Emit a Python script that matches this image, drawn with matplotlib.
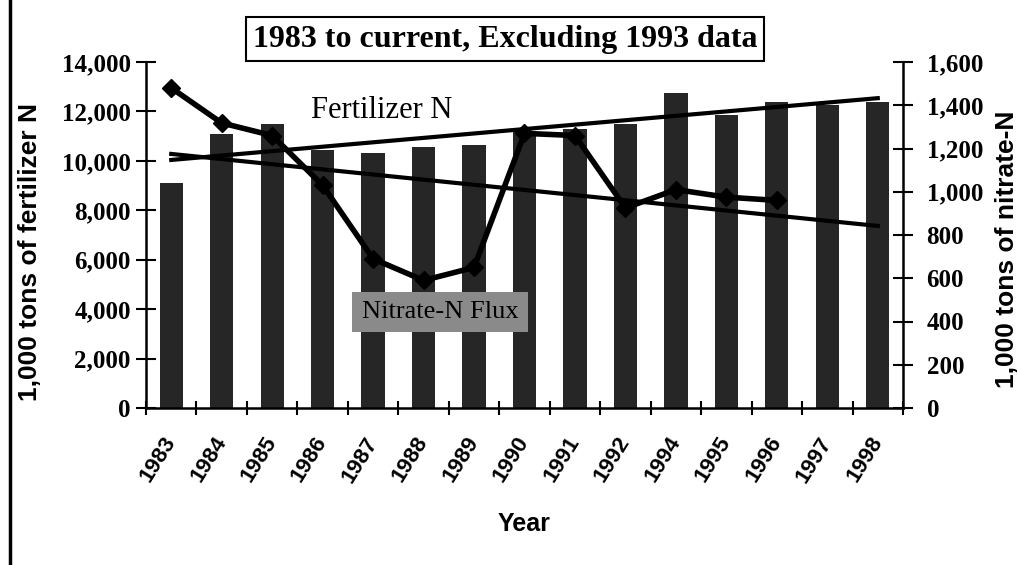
import numpy as np
import matplotlib
matplotlib.use("Agg")
import matplotlib.pyplot as plt
from matplotlib.lines import Line2D

# Data (1993 excluded)
years = ["1983", "1984", "1985", "1986", "1987", "1988", "1989", "1990",
         "1991", "1992", "1994", "1995", "1996", "1997", "1998"]
fertilizer_n = [9100, 11100, 11500, 10450, 10300, 10550, 10650, 11200,
                11300, 11500, 12750, 11850, 12400, 12250, 12400]
# nitrate-N flux only runs through 1996
nitrate_n = [1480, 1318, 1260, 1030, 690, 590, 650, 1270,
             1260, 925, 1010, 975, 960]

left_ticks = [0, 2000, 4000, 6000, 8000, 10000, 12000, 14000]
right_ticks = [0, 200, 400, 600, 800, 1000, 1200, 1400, 1600]

serif = "Liberation Serif"
sans = "Liberation Sans"
W, H = 1018, 565

fig = plt.figure(figsize=(W / 100, H / 100), dpi=100)
ax = fig.add_axes([146 / W, 1 - 408 / H, (903 - 146) / W, 346 / H])

x = np.arange(len(years))
x_nit = np.arange(len(nitrate_n))

ax.bar(x, fertilizer_n, width=0.46, color="#262626", zorder=2)

# linear trend lines, as in the spreadsheet original
fit_f = np.polyfit(x, fertilizer_n, 1)
ax.plot(x, np.polyval(fit_f, x), color="black", lw=3, zorder=3)

ax.set_xlim(-0.5, len(years) - 0.5)
ax.set_ylim(0, 14000)
ax.set_yticks(left_ticks)
ax.set_yticklabels([f"{v:,}" for v in left_ticks],
                   fontfamily=serif, fontweight="bold", fontsize=18)
ax.set_xticks(x)
ax.set_xticklabels(years, rotation=58, ha="right", va="center",
                   rotation_mode="anchor", fontfamily=sans,
                   fontweight="bold", fontsize=16)
ax.set_xticks(np.arange(-0.5, len(years)), minor=True)
ax.tick_params(axis="x", which="major", length=0, pad=22)
ax.tick_params(axis="x", which="minor", direction="inout", length=10, width=1.5)
ax.tick_params(axis="y", direction="inout", length=14, width=1.5, pad=4)

for s in ["top", "right"]:
    ax.spines[s].set_visible(False)
for s in ["left", "bottom"]:
    ax.spines[s].set_linewidth(1.8)

ax.set_xlabel("Year", fontfamily=sans, fontweight="bold", fontsize=18)
ax.xaxis.set_label_coords(0.5, -0.30)
ax.set_ylabel("1,000 tons of fertilizer N", fontfamily=sans, fontsize=19)
ax.yaxis.label.set_fontweight("heavy")
ax.yaxis.set_label_coords(-0.137, 0.45)

ax2 = ax.twinx()
ax2.plot(x_nit, nitrate_n, color="black", lw=4, marker="D", markersize=9,
         zorder=4)
fit_n = np.polyfit(x_nit, nitrate_n, 1)
ax2.plot(x, np.polyval(fit_n, x), color="black", lw=3, zorder=3)
ax2.set_ylim(0, 1600)
ax2.set_yticks(right_ticks)
ax2.set_yticklabels([f"{v:,}" for v in right_ticks],
                    fontfamily=serif, fontweight="bold", fontsize=18)
ax2.tick_params(axis="y", direction="inout", length=14, width=1.5, pad=10)
for s in ["top", "left", "bottom"]:
    ax2.spines[s].set_visible(False)
ax2.spines["right"].set_linewidth(1.8)
ax2.set_ylabel("1,000 tons of nitrate-N", fontfamily=sans, fontsize=19,
               rotation=90)
ax2.yaxis.label.set_fontweight("heavy")
ax2.yaxis.set_label_coords(1.122, 0.46)

# annotations
fig.text(505 / W, 1 - 39 / H, "1983 to current, Excluding 1993 data",
         fontfamily=serif, fontweight="bold", fontsize=23,
         ha="center", va="center",
         bbox=dict(boxstyle="square,pad=0.22", facecolor="white",
                   edgecolor="black", lw=1.5))
fig.text(382 / W, 1 - 110 / H, "Fertilizer N", fontfamily=serif,
         fontsize=22, ha="center", va="center")
fig.text(440 / W, 1 - 312 / H, "Nitrate-N Flux", fontfamily=serif,
         fontsize=19, ha="center", va="center", zorder=10,
         bbox=dict(boxstyle="square,pad=0.35", facecolor="#8a8a8a",
                   edgecolor="none"))

# page border on the left of the scan
fig.add_artist(Line2D([10 / W, 10 / W], [0, 1], color="black", lw=2.5))

fig.savefig("out.png", dpi=100)
